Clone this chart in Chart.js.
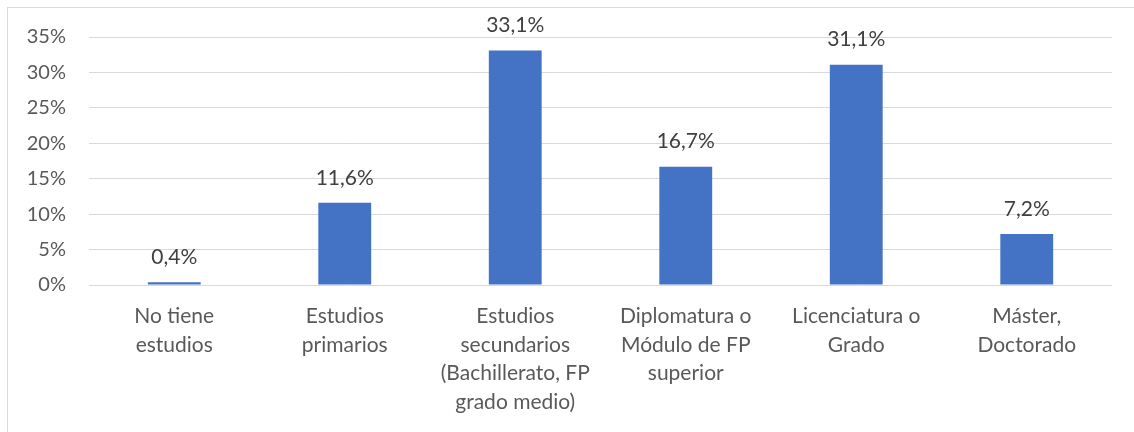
<!DOCTYPE html>
<html>
<head>
<meta charset="utf-8">
<script src="https://cdn.jsdelivr.net/npm/chart.js@4/dist/chart.umd.min.js"></script>
<style>
  html, body { margin: 0; padding: 0; background: #fff; }
  #frame { position: absolute; left: 7px; top: 7px; width: 1140px; height: 440px; border: 1px solid #d9d9d9; box-sizing: border-box; }
  #wrap { position: absolute; left: 0; top: 0; width: 1134px; height: 432px; }
</style>
</head>
<body>
<div id="frame"></div>
<div id="wrap"><canvas id="eduChart"></canvas></div>
<script>
// datos
const categories = [
  ['No tiene', 'estudios'],
  ['Estudios', 'primarios'],
  ['Estudios', 'secundarios', '(Bachillerato, FP', 'grado medio)'],
  ['Diplomatura o', 'Módulo de FP', 'superior'],
  ['Licenciatura o', 'Grado'],
  ['Máster,', 'Doctorado']
];
const percentages = [0.4, 11.6, 33.1, 16.7, 31.1, 7.2];
const yTicks = [0, 5, 10, 15, 20, 25, 30, 35];

const fontFamily = 'Lato, "Open Sans", sans-serif';

// etiquetas encima de las barras
const valueLabels = {
  id: 'valueLabels',
  afterDatasetsDraw(chart) {
    const ctx = chart.ctx;
    const meta = chart.getDatasetMeta(0);
    ctx.save();
    ctx.font = '21px ' + fontFamily;
    ctx.fillStyle = '#404040';
    ctx.textAlign = 'center';
    ctx.textBaseline = 'middle';
    meta.data.forEach((bar, i) => {
      const txt = percentages[i].toFixed(1).replace('.', ',') + '%';
      ctx.fillText(txt, bar.x, bar.y - 25);
    });
    ctx.restore();
  }
};

new Chart(document.getElementById('eduChart'), {
  type: 'bar',
  data: {
    labels: categories,
    datasets: [{
      data: percentages,
      backgroundColor: '#4472C4',
      barPercentage: 0.62,
      categoryPercentage: 0.5
    }]
  },
  options: {
    responsive: true,
    maintainAspectRatio: false,
    animation: false,
    layout: { padding: { top: 37, right: 22, bottom: 0, left: 0 } },
    plugins: {
      legend: { display: false },
      tooltip: { enabled: false }
    },
    scales: {
      x: {
        grid: { display: false, drawTicks: false },
        border: { display: false },
        ticks: {
          color: '#595959',
          font: { family: fontFamily, size: 21, lineHeight: 1.36 },
          padding: 17,
          maxRotation: 0,
          autoSkip: false
        },
        afterFit(scale) { scale.height = 147; }
      },
      y: {
        min: 0,
        max: 35,
        grid: { color: '#d9d9d9', lineWidth: 1, drawTicks: false },
        border: { display: false },
        afterBuildTicks(scale) { scale.ticks = yTicks.map(v => ({ value: v })); },
        ticks: {
          color: '#595959',
          font: { family: fontFamily, size: 20 },
          padding: 23,
          callback: v => v + '%'
        },
        afterFit(scale) { scale.width = 89; }
      }
    }
  },
  plugins: [valueLabels]
});
</script>
</body>
</html>
